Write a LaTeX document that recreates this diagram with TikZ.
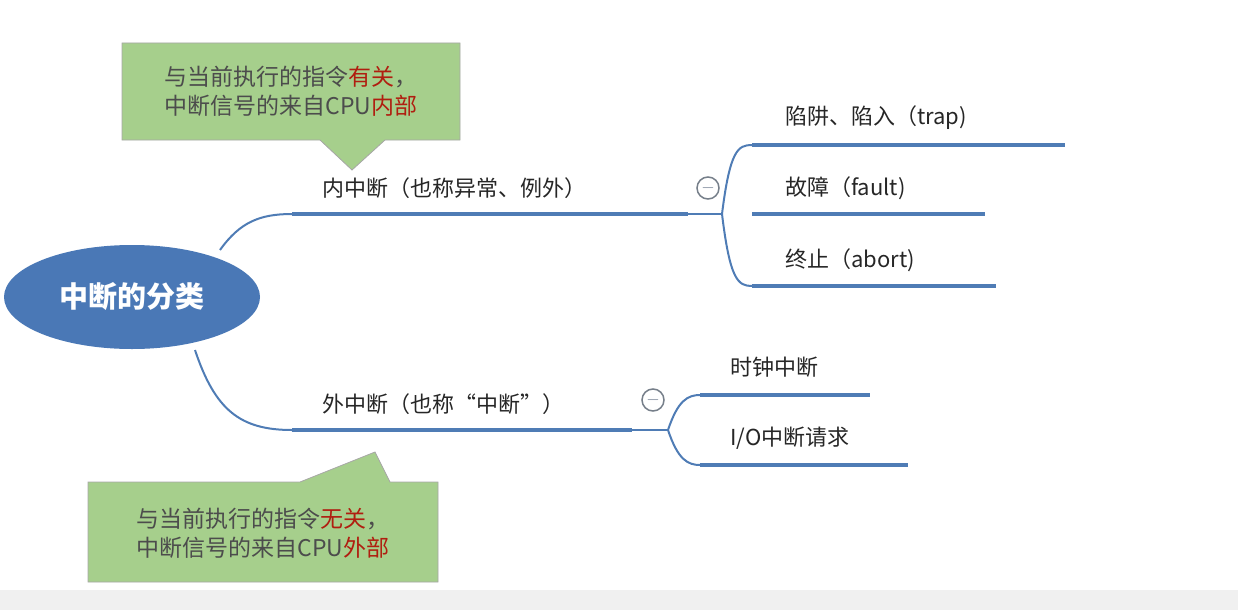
\documentclass[tikz,border=0pt]{standalone}
\usepackage{fontspec}
\setmainfont{Noto Sans CJK SC}
\usetikzlibrary{shapes.geometric}
\definecolor{br}{HTML}{4F7CB5}
\definecolor{ov}{HTML}{4A78B6}
\definecolor{gr}{HTML}{A6CF8C}
\definecolor{rd}{HTML}{B01E10}
\tikzset{
 bl/.style={draw=br,line width=4pt},
 cv/.style={draw=br,line width=2pt},
 lab/.style={font=\fontsize{22}{26}\selectfont,text=black!85,anchor=west,inner sep=0pt},
 mn/.style={circle,draw=gray!80!br,line width=1.5pt,minimum size=22pt,inner sep=0pt,font=\bfseries\fontsize{18}{18}\selectfont,text=gray!70!br},
 call/.style={fill=gr,draw=gray!70,line width=0.8pt},
 ct/.style={font=\fontsize{23}{29}\selectfont,text=black!70,align=center}
}
\begin{document}
\begin{tikzpicture}[x=1pt,y=-1pt]
\useasboundingbox (0,0) rectangle (1238,610);
\fill[gray!12] (0,590) rectangle (1238,610);
% root
\node[ellipse,fill=ov,minimum width=256pt,minimum height=104pt,text=white,font=\bfseries\fontsize{29}{30}\selectfont] (root) at (132,297) {中断的分类};
% top branch
\coordinate (t0) at (220,250); \coordinate (t1) at (292,214); \coordinate (t2) at (688,214);
\draw[cv] (t0) .. controls (240,222) and (260,214) .. (t1);
\draw[bl] (t1) -- (t2);
\node[lab] (tl) at (322,188) {内中断（也称异常、例外）};
\node[mn] (tm) at (708,188) {$-$};
\coordinate (s0) at (722,214);
\coordinate (a1) at (752,145); \coordinate (a2) at (1065,145);
\coordinate (b1) at (752,214); \coordinate (b2) at (985,214);
\coordinate (c1) at (752,286); \coordinate (c2) at (996,286);
\draw[cv] (t2) -- (s0);
\draw[cv] (s0) .. controls (730,150) and (738,145) .. (a1);
\draw[cv] (s0) .. controls (730,280) and (738,286) .. (c1);
\draw[bl] (a1) -- (a2); \draw[bl] (b1) -- (b2); \draw[bl] (c1) -- (c2);
\node[lab] (la) at (785,118) {陷阱、陷入（trap)};
\node[lab] (lb) at (785,188) {故障（fault)};
\node[lab] (lc) at (785,260) {终止（abort)};
% bottom branch
\coordinate (u0) at (195,350); \coordinate (u1) at (292,430); \coordinate (u2) at (632,430);
\draw[cv] (u0) .. controls (215,410) and (240,430) .. (u1);
\draw[bl] (u1) -- (u2);
\node[lab] (ul) at (322,404) {外中断（也称“中断”）};
\node[mn] (um) at (653,400) {$-$};
\coordinate (v0) at (668,430);
\coordinate (d1) at (700,395); \coordinate (d2) at (870,395);
\coordinate (e1) at (700,465); \coordinate (e2) at (908,465);
\draw[cv] (u2) -- (v0);
\draw[cv] (v0) .. controls (678,400) and (688,395) .. (d1);
\draw[cv] (v0) .. controls (678,460) and (688,465) .. (e1);
\draw[bl] (d1) -- (d2); \draw[bl] (e1) -- (e2);
\node[lab] (ld) at (730,367) {时钟中断};
\node[lab] (le) at (730,438) {I/O中断请求};
% callouts
\draw[call] (122,43) -- (460,43) -- (460,140) -- (385,140) -- (352,170) -- (320,140) -- (122,140) -- cycle;
\node[ct] (c1t) at (291,91) {与当前执行的指令\textcolor{rd}{有关}，\\中断信号的来自CPU\textcolor{rd}{内部}};
\draw[call] (88,482) -- (300,482) -- (375,452) -- (390,482) -- (438,482) -- (438,582) -- (88,582) -- cycle;
\node[ct] (c2t) at (263,533) {与当前执行的指令\textcolor{rd}{无关}，\\中断信号的来自CPU\textcolor{rd}{外部}};
\end{tikzpicture}
\end{document}
